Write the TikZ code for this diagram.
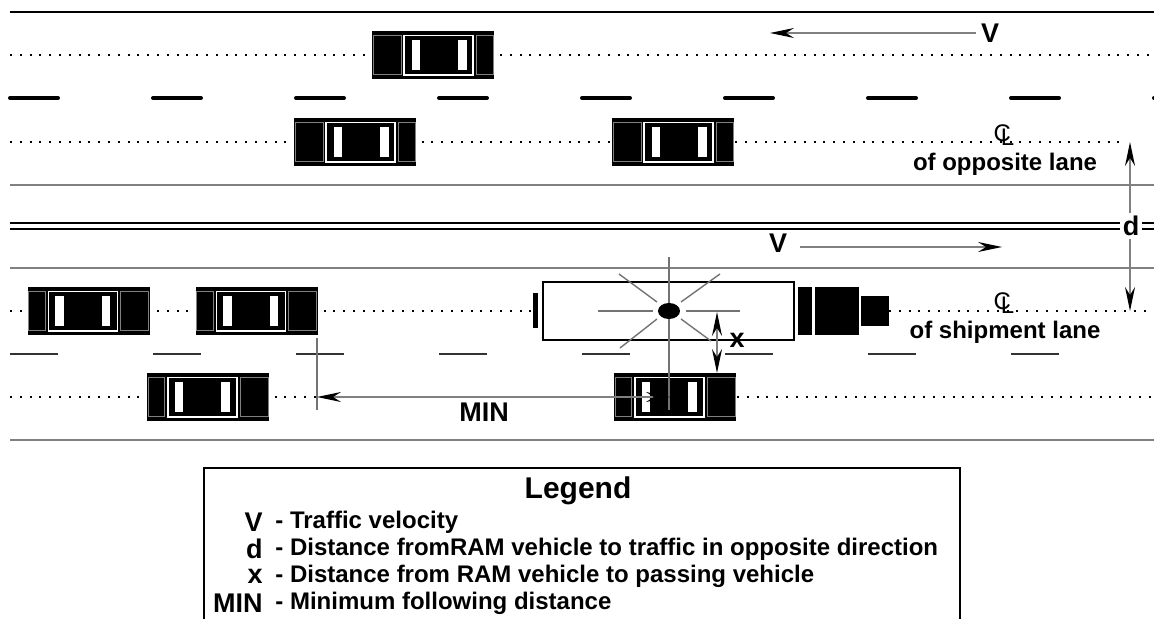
\documentclass[tikz,border=0pt]{standalone}
\usepackage{fontspec}
\setmainfont{Liberation Sans}
\usetikzlibrary{arrows.meta}

\tikzset{
	car/.pic={
		\fill (-61,-24) rectangle (61,24);
		\draw[gray,line width=0.5pt] (-60,-19.5) rectangle (-43.5,19.5);
		\draw[gray,line width=0.5pt] (32,-19.5) rectangle (60,19.5);
		\draw[white,line width=0.9pt] (-40,-19.5) rectangle (29,20);
		\fill[white] (-33.5,-15) rectangle (-25,15);
		\fill[white] (13,-15) rectangle (21.5,15);
	},
	road/.style={gray,line width=0.7pt},
	lanedots/.style={line width=1pt,dash pattern=on 1pt off 3.9pt},
	ray/.style={gray!90!black,line width=0.7pt},
	arr/.style={gray,line width=0.75pt,-{Stealth[length=12pt,width=5pt,inset=4pt,color=black]}},
	twoarr/.style={arr,{Stealth[length=12pt,width=5pt,inset=4pt,color=black]}-{Stealth[length=12pt,width=5pt,inset=4pt,color=black]}},
	sym/.style={font=\bfseries\fontsize{13.5}{16}\selectfont,inner sep=1pt},
	txt/.style={font=\bfseries\fontsize{12}{14}\selectfont,inner sep=0pt},
	clmark/.style={font=\fontsize{12}{12}\selectfont,inner sep=0pt},
}

\begin{document}
\begin{tikzpicture}[x=0.5pt,y=-0.5pt]
	\useasboundingbox (0,0) rectangle (1154,619);
	% road lines
	\draw[black,line width=0.75pt] (10,12) -- (1154,12);
	\draw[line width=2pt,line cap=round,dash pattern=on 24pt off 47.5pt] (10,98) -- (1154,98);
	\draw[road] (10,185) -- (1154,185);
	\draw[black,line width=1pt] (10,223) -- (1154,223);
	\draw[black,line width=1pt] (10,229) -- (1154,229);
	\draw[road] (10,268) -- (1154,268);
	\draw[black!80,line width=1pt,dash pattern=on 24pt off 47.5pt] (10,354) -- (1154,354);
	\draw[road] (10,440) -- (1154,440);
	% lane centre dots
	\draw[lanedots] (10,55) -- (1154,55);
	\draw[lanedots] (10,142) -- (1124,142);
	\draw[lanedots] (10,311) -- (533,311);
	\draw[lanedots] (889,311) -- (1154,311);
	\draw[lanedots] (10,397) -- (316,397);
	\draw[lanedots] (737,397) -- (1154,397);
	% cars
	\foreach \cx/\cy/\dir [count=\i] in {433/55/-1,355/142/-1,673/142/-1,88.5/311/1,256.5/311/1,208/397/1,675/397/1}
	\pic[xscale=\dir] (car\i) at (\cx,\cy) {car};
	% RAM vehicle
	\draw[line width=1pt] (543,282) rectangle (794,340);
	\fill (533,293) rectangle (538,328);
	\fill (798,287) rectangle (812,335);
	\fill (815,287) rectangle (859,335);
	\fill (861,296) rectangle (889,326);
	% blast
	\draw[ray] (669,257) -- (669,410);
	\draw[ray] (598,311) -- (653,311);
	\draw[ray] (686,311) -- (740,311);
	\draw[ray] (619,274) -- (657,302);
	\draw[ray] (720,274) -- (681,302);
	\draw[ray] (620,348) -- (657,319);
	\draw[ray] (711,341) -- (681,319);
	\fill (669,311) ellipse [x radius=5.5pt,y radius=4pt];
	% velocities
	\node[sym] (vtop) at (990,33) {V};
	\coordinate (vtopend) at (770,33);
	\draw[arr] (vtop.west) ++(-3,0) -- (vtopend);
	\node[sym] (vbot) at (778,243) {V};
	\coordinate (vbotend) at (1002,247);
	\draw[arr] (800,247) -- (vbotend);
	% centre lines
	\node[clmark] (clopp) at (1004,135) {C\hspace{-0.42em}\raisebox{-0.35ex}{L}};
	\node[txt] (oppl) at (1005,164) {of opposite lane};
	\node[clmark] (clship) at (1004,303) {C\hspace{-0.42em}\raisebox{-0.35ex}{L}};
	\node[txt] (shipl) at (1005,332) {of shipment lane};
	% d
	\coordinate (dtop) at (1130,142);
	\coordinate (dbot) at (1130,311);
	\draw[twoarr] (dtop) -- (dbot);
	\node[sym,fill=white,inner sep=1.5pt] (dlab) at (1131,226) {d};
	% x
	\coordinate (xtop) at (717,312);
	\coordinate (xbot) at (717,373);
	\draw[twoarr] (xtop) -- (xbot);
	\node[sym] (xlab) at (737,340) {x};
	% MIN
	\draw[ray] (317,338) -- (317,410);
	\coordinate (minl) at (317,397);
	\coordinate (minr) at (670,397);
	\draw[twoarr] (minl) -- (minr);
	\node[sym] (minlab) at (484,412) {MIN};
	% legend
	\draw[line width=0.75pt] (204,619) -- (204,468) -- (960,468) -- (960,619);
	\node[font=\bfseries\fontsize{15}{18}\selectfont] (legend) at (578,491) {Legend};
	\foreach \s/\t [count=\i] in {V/- Traffic velocity,d/- Distance fromRAM vehicle to traffic in opposite direction,x/- Distance from RAM vehicle to passing vehicle,MIN/- Minimum following distance}
	{
		\node[sym,anchor=east] (key\i) at (265,495+27*\i) {\s};
		\node[txt,anchor=west] (desc\i) at (275,495+27*\i) {\t};
	}
\end{tikzpicture}
\end{document}
